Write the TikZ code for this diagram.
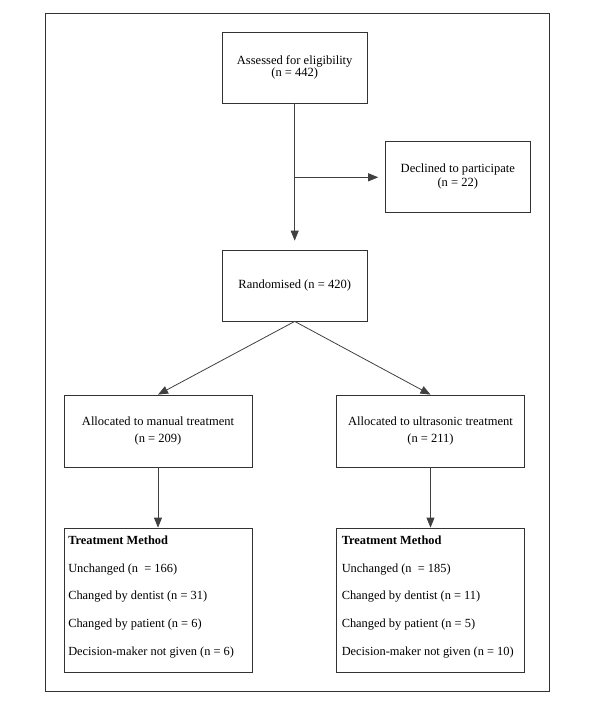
\documentclass[tikz,border=0pt]{standalone}
\usepackage{fontspec}
\setmainfont{Liberation Serif}
\usetikzlibrary{arrows.meta}

\begin{document}
\begin{tikzpicture}[x=0.75pt,y=-0.75pt,
		box/.style={shape=rectangle,draw=black!80,line width=0.6pt,inner sep=0pt,align=center,
			font=\fontsize{9.4}{9}\selectfont,minimum width=108.75pt,minimum height=53.25pt},
		widebox/.style={box,minimum width=141pt,minimum height=54pt},
		listbox/.style={box,minimum width=141pt,minimum height=108pt},
		listtext/.style={anchor=north west,inner sep=0pt,align=left,font=\fontsize{9.3}{20.8}\selectfont},
		link/.style={draw=black!75,line width=0.6pt,-{Triangle[length=7.5pt,width=6pt]}}]
			\useasboundingbox (0,0) rectangle (600,703);
			\draw[black!80,line width=0.6pt] (45.7,13.3) rectangle (549,691);
			
			\node[box] (assessed) at (294.7,67.5) {Assessed for eligibility\\(n = 442)};
			\node[box] (declined) at (457.8,176.4) {Declined to participate\\[1.1pt](n = 22)};
			\node[box] (random) at (294.7,285.5) {Randomised (n = 420)};
			\node[widebox] (manual) at (158,431) {Allocated to manual treatment\\[3.6pt](n = 209)};
			\node[widebox] (ultra) at (430.5,431) {Allocated to ultrasonic treatment\\[3.6pt](n = 211)};
			\node[listbox] (treatL) at (158,600) {};
			\node[listbox] (treatR) at (430.5,600) {};
			\node[listtext] (listL) at (68,535.5) {\textbf{Treatment Method}\\Unchanged (n~\ = 166)\\Changed by dentist (n = 31)\\Changed by patient (n = 6)\\Decision-maker not given (n = 6)};
			\node[listtext] (listR) at (341.5,535.5) {\textbf{Treatment Method}\\Unchanged (n~\ = 185)\\Changed by dentist (n = 11)\\Changed by patient (n = 5)\\Decision-maker not given (n = 10)};
			\coordinate (split) at (294.7,177.3);
			
			\path (assessed) edge[link,shorten >=6.75pt] (random);
			\path (split) edge[link,shorten >=5pt] (split -| declined.west);
			\path (random.south) edge[link] (manual.north);
			\path (random.south) edge[link] (ultra.north);
			\path (manual) edge[link] (treatL);
			\path (ultra) edge[link] (treatR);
		\end{tikzpicture}
\end{document}
